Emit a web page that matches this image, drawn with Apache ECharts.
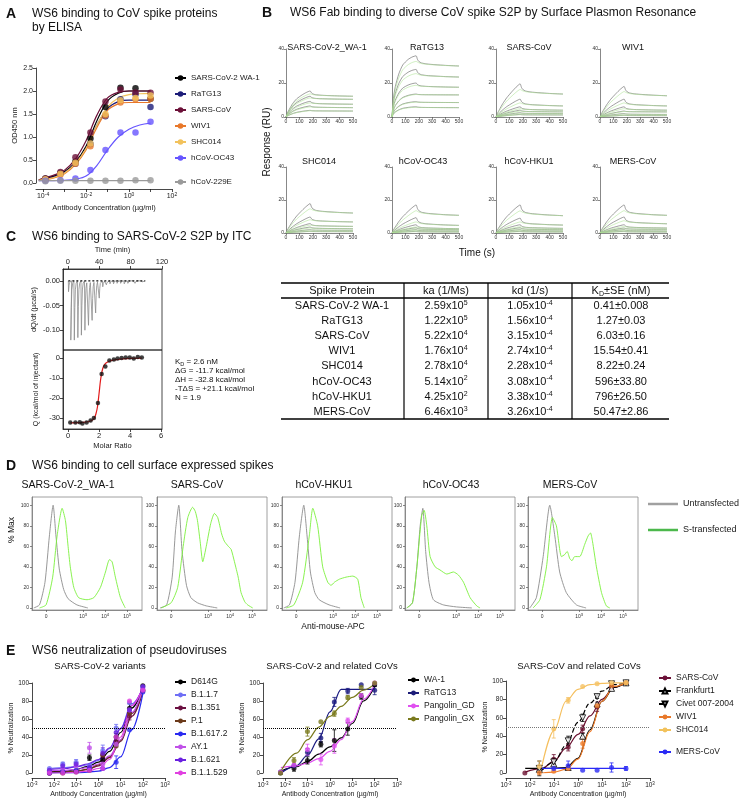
<!DOCTYPE html>
<html>
<head>
<meta charset="utf-8">
<title>WS6 figure</title>
<script src="https://cdn.jsdelivr.net/npm/echarts@6.0.0/dist/echarts.min.js"></script>
<style>
html,body{margin:0;padding:0;background:#ffffff;}
#chart{width:750px;height:801px;}
</style>
</head>
<body>
<div id="chart"></div>
<script>
// ============================ DATA ============================
// ---- Panel A: ELISA (OD450 vs antibody concentration, µg/ml)
const elisaNames = ['SARS-CoV-2 WA-1','RaTG13','SARS-CoV','WIV1','SHC014','hCoV-OC43','hCoV-229E'];
const elisaConc = [0.000128,0.00064,0.0032,0.016,0.08,0.4,2,10];
const elisaOD_WA1    = [0.10,0.22,0.47,0.97,1.65,2.07,2.06,1.83];
const elisaOD_RaTG13 = [0.08,0.20,0.42,0.85,1.45,1.82,1.93,1.65];
const elisaOD_SARS   = [0.10,0.24,0.56,1.10,1.77,2.03,1.97,1.96];
const elisaOD_WIV1   = [0.07,0.18,0.42,0.80,1.47,1.75,1.82,1.83];
const elisaOD_SHC014 = [0.08,0.20,0.44,0.86,1.50,1.80,1.85,1.90];
const elisaOD_OC43   = [0.05,0.06,0.10,0.28,0.72,1.10,1.10,1.33];
const elisaOD_229E   = [0.04,0.05,0.05,0.05,0.05,0.05,0.06,0.06];
const elisaFitLogConc = [-4.2,-3.5,-3,-2.5,-2,-1.5,-1,-0.5,0,0.5,1];
const elisaFit_WA1    = [0.07,0.15,0.25,0.45,0.80,1.35,1.78,1.95,2.00,2.00,2.00];
const elisaFit_RaTG13 = [0.06,0.13,0.23,0.42,0.75,1.25,1.62,1.77,1.80,1.80,1.80];
const elisaFit_SARS   = [0.07,0.17,0.28,0.52,0.92,1.47,1.85,1.97,2.00,2.00,2.00];
const elisaFit_WIV1   = [0.05,0.11,0.20,0.40,0.72,1.20,1.58,1.72,1.75,1.75,1.75];
const elisaFit_SHC014 = [0.06,0.12,0.22,0.42,0.75,1.25,1.65,1.85,1.92,1.94,1.95];
const elisaFit_OC43   = [0.05,0.05,0.06,0.08,0.15,0.38,0.72,1.00,1.17,1.26,1.30];
const elisaFit_229E   = [0.05,0.05,0.05,0.05,0.05,0.05,0.05,0.05,0.05,0.05,0.05];
const elisaXTickLabels = [-4,-2,0,2];
const elisaXTicks = [-4,-3,-2,-1,0,1,2];

// ---- Panel B: SPR sensorgrams (response RU at end of association / end of run)
const sprTitles = ['SARS-CoV-2_WA-1','RaTG13','SARS-CoV','WIV1','SHC014','hCoV-OC43','hCoV-HKU1','MERS-CoV'];
const sprPeak_WA1   = [15.3,12.2,9.2,6.5,3.9];
const sprEnd_WA1    = [12.2,10.4,7.5,5.5,3.5];
const sprPeak_RaTG13= [36,28,20,13.5,9,6];
const sprEnd_RaTG13 = [30,23.5,17.5,13,8.5,5.5];
const sprPeak_SARS  = [19.5,10.5,6,4,2.5,1.5];
const sprEnd_SARS   = [13.5,6.5,4,3,2,1.2];
const sprPeak_WIV1  = [18,10.5,6,3.5,2,1];
const sprEnd_WIV1   = [12.5,6.5,4,3,1.5,0.8];
const sprPeak_SHC014= [17.8,9.7,5.7,3.6,2,1];
const sprEnd_SHC014 = [12.1,6.7,4,2.6,1.6,0.8];
const sprPeak_OC43  = [17,9.3,5,3.2,2,1];
const sprEnd_OC43   = [10.7,4.6,2.6,2,1.2,0.6];
const sprPeak_HKU1  = [17,9,5,3.2,2,1];
const sprEnd_HKU1   = [10.5,4.8,2.8,2,1.2,0.6];
const sprPeak_MERS  = [17,9.7,5,3,2,1];
const sprEnd_MERS   = [10.7,5.6,3,2.2,1.2,0.6];
const sprAssocTime = [0,10,25,50,80,120,150,180];
const sprAssocFracFast = [0,0.30,0.50,0.70,0.85,0.94,0.98,1];
const sprAssocFracMid  = [0,0.15,0.30,0.52,0.70,0.85,0.94,1];
const sprAssocFracSlow = [0,0.10,0.22,0.40,0.58,0.77,0.90,1];
const sprDissocTime = [180,190,200,220,260,320,400,500];
const sprDissocFrac    = [0,0.35,0.55,0.70,0.80,0.87,0.94,1];
const sprFitDissocFrac = [0,0.15,0.30,0.47,0.63,0.77,0.90,1];

// ---- Table (SPR kinetics)
const tableHeader = ['Spike Protein','ka (1/Ms)','kd (1/s)'];
const tableProteins = ['SARS-CoV-2 WA-1','RaTG13','SARS-CoV','WIV1','SHC014','hCoV-OC43','hCoV-HKU1','MERS-CoV'];
const tableKaMant = ['2.59','1.22','5.22','1.76','2.78','5.14','4.25','6.46'];
const tableKaExp  = ['5','5','4','4','4','2','2','3'];
const tableKdMant = ['1.05','1.56','3.15','2.74','2.28','3.08','3.38','3.26'];
const tableKdExp  = ['-4','-4','-4','-4','-4','-4','-4','-4'];
const tableKD = ['0.41±0.008','1.27±0.03','6.03±0.16','15.54±0.41','8.22±0.24','596±33.80','796±26.50','50.47±2.86'];

// ---- Panel C: ITC
const itcInjTime = [0.5,3.4,7.9,12.4,16.9,21.4,26.0,30.6,35.1,39.7,44.2,48.8,53.4,57.9,62.5,67.0,71.6,76.2,80.7,85.3,89.8,94.4];
const itcInjPeak = [-0.022,-0.120,-0.120,-0.115,-0.110,-0.100,-0.090,-0.080,-0.065,-0.035,-0.012,-0.008,-0.006,-0.006,-0.005,-0.005,-0.006,-0.005,-0.004,-0.005,-0.004,-0.004];
const itcMolarRatio = [0.15,0.48,0.76,0.93,1.2,1.46,1.67,1.93,2.17,2.41,2.67,2.96,3.2,3.46,3.72,3.98,4.24,4.5,4.76];
const itcHeat = [-32.2,-32.3,-32.1,-32.8,-32.2,-31.3,-30,-22.5,-8,-4.2,-1.3,-0.8,-0.3,0,0.3,0.3,-0.3,0.5,0.3];
const itcFitRatio = [0.15,1.0,1.5,1.7,1.8,1.9,2.0,2.1,2.2,2.3,2.45,2.7,3.0,3.5,4.0,4.76];
const itcFitHeat  = [-32.4,-32.2,-31.4,-30,-28,-24.5,-18,-11,-6.5,-4,-2.5,-1.5,-0.9,-0.4,-0.2,-0.1];
const itcResults = ['K{sub|D} = 2.6 nM','ΔG = -11.7 kcal/mol','ΔH = -32.8 kcal/mol','-TΔS = +21.1 kcal/mol','N = 1.9'];

// ---- Panel D: flow cytometry histograms ([display decade position, % Max])
const flowTitles = ['SARS-CoV-2_WA-1','SARS-CoV','hCoV-HKU1','hCoV-OC43','MERS-CoV'];
const flowTickPos = [0,1.68,2.68,3.68];
const flowTickText = ['0','10{s|3}','10{s|4}','10{s|5}'];
const flowWA1_untr = [[-0.56,0],[-0.3,3],[-0.05,25],[0.15,70],[0.32,100],[0.45,70],[0.6,38],[0.8,18],[1.0,9],[1.4,3],[1.9,0]];
const flowWA1_str  = [[-0.3,0],[0,3],[0.3,30],[0.5,70],[0.73,97],[0.88,85],[1.0,60],[1.1,40],[1.26,20],[1.48,10],[1.86,8],[2.17,10],[2.47,20],[2.7,35],[2.88,47],[3.0,45],[3.15,30],[3.38,10],[3.6,0]];
const flowSARS_untr = [[-0.5,0],[-0.2,3],[0.05,30],[0.2,75],[0.35,100],[0.5,55],[0.7,22],[0.9,10],[1.2,5],[1.6,2],[2.1,0]];
const flowSARS_str  = [[-0.45,0],[0,5],[0.3,20],[0.55,60],[0.76,88],[0.98,98],[1.1,94],[1.2,85],[1.32,65],[1.44,45],[1.6,60],[1.8,82],[1.97,92],[2.12,88],[2.3,72],[2.42,65],[2.6,60],[2.73,57],[2.88,45],[3.05,30],[3.18,15],[3.35,6],[3.48,3],[3.71,0]];
const flowHKU1_untr = [[-0.56,0],[-0.3,3],[-0.05,25],[0.15,70],[0.35,100],[0.5,70],[0.65,35],[0.85,15],[1.05,8],[1.5,3],[2.0,0]];
const flowHKU1_str  = [[-0.45,0],[-0.1,3],[0.3,25],[0.6,70],[0.76,97],[0.98,80],[1.21,40],[1.44,25],[1.59,22],[1.74,25],[1.97,28],[2.27,30],[2.58,31],[2.8,28],[2.95,10],[3.1,0]];
const flowOC43_untr = [[-0.56,0],[-0.3,5],[-0.1,40],[0.05,80],[0.17,97],[0.3,55],[0.45,25],[0.65,8],[1.1,3],[1.7,1],[2.4,0]];
const flowOC43_str  = [[-0.56,0],[-0.3,5],[-0.1,40],[0.12,90],[0.23,95],[0.35,80],[0.5,50],[0.73,40],[0.95,37],[1.26,33],[1.56,35],[1.79,32],[2.02,25],[2.32,10],[2.62,2],[2.77,0]];
const flowMERS_untr = [[-0.56,0],[-0.26,10],[0.05,50],[0.35,100],[0.58,70],[0.8,35],[1.1,15],[1.56,3],[2.0,0]];
const flowMERS_str  = [[-0.41,0],[-0.1,8],[0.2,40],[0.47,88],[0.65,80],[0.88,50],[1.03,52],[1.14,55],[1.26,48],[1.36,46],[1.48,50],[1.71,50],[1.94,62],[2.09,70],[2.2,73],[2.29,65],[2.47,40],[2.7,15],[2.92,2],[3.08,0]];

// ---- Panel E: neutralization (% neutralization vs µg/ml), error = SEM
const neutConc = [0.0061,0.0244,0.0977,0.39,1.5625,6.25,25,100];
const neutFitLogConc = [-2.2,-1.5,-1,-0.5,0,0.5,1,1.5,2];
const neutXTicks = [-3,-2,-1,0,1,2,3];
const neutSubtitles = ['SARS-CoV-2 variants','SARS-CoV-2 and related CoVs','SARS-CoV and related CoVs'];
// variants
const neut1_D614G   = [0,1,2,17,15,40,72,97];
const neut1_B117    = [5,10,12,8,25,50,78,95];
const neut1_B1351   = [0,1,1,3,20,35,63,91];
const neut1_P1      = [0,0,2,5,20,30,66,92];
const neut1_B16172  = [0,2,3,5,5,12,48,90];
const neut1_AY1     = [2,5,8,28,10,32,70,93];
const neut1_B1621   = [3,8,10,6,22,45,70,96];
const neut1_B11529  = [0,0,1,3,5,40,80,92];
const err1_D614G  = [0,0,0,3,2,4,5,0];
const err1_B117   = [0,2,3,0,6,4,0,0];
const err1_B1351  = [0,0,0,0,3,0,4,0];
const err1_P1     = [0,0,0,0,0,0,0,0];
const err1_B16172 = [0,0,0,0,0,7,0,0];
const err1_AY1    = [0,0,0,6,0,0,0,0];
const err1_B1621  = [0,0,0,0,6,0,0,0];
const err1_B11529 = [0,0,0,0,0,0,0,0];
const fit1_D614G  = [1,2,4,7,12,24,45,72,95];
const fit1_B117   = [5,6,7,9,14,27,50,77,94];
const fit1_B1351  = [0,1,2,4,8,17,35,63,90];
const fit1_P1     = [1,1,2,4,9,18,36,66,91];
const fit1_B16172 = [0,0,0,1,2,6,18,48,88];
const fit1_AY1    = [3,3,4,6,10,19,37,67,93];
const fit1_B1621  = [4,5,7,10,15,28,49,75,95];
const fit1_B11529 = [0,0,1,2,5,15,40,75,95];
// SARS-CoV-2 and related
const neut2_WA1    = [0,5,14,32,36,49,85,98];
const neut2_RaTG13 = [1,8,23,39,79,91,98,92];
const neut2_PangGD = [1,9,26,15,30,58,86,100];
const neut2_PangGX = [0,14,46,57,66,84,95,100];
const err2_WA1    = [0,3,4,3,12,7,3,2];
const err2_RaTG13 = [0,0,4,5,5,3,0,5];
const err2_PangGD = [0,0,6,6,8,3,0,0];
const err2_PangGX = [0,3,5,0,3,2,0,0];
const fit2_WA1    = [2,7,13,21,29,39,55,80,96];
const fit2_RaTG13 = [0,8,20,38,68,93,93,93,93];
const fit2_PangGD = [6,8,11,16,24,37,57,82,98];
const fit2_PangGX = [2,22,37,51,63,74,84,92,99];
// SARS-CoV and related
const neut3_SARS   = [0,3,15,28,48,72,93,98];
const neut3_Frank  = [null,4,10,6,40,75,92,98];
const neut3_Civet  = [null,5,12,35,60,83,97,98];
const neut3_WIV1   = [null,0,2,5,32,73,95,98];
const neut3_SHC014 = [null,7,48,79,94,97,98,98];
const neut3_MERS   = [null,null,5,8,3,3,6,5];
const err3_SARS   = [0,0,5,4,4,5,2,0];
const err3_Frank  = [0,0,0,0,3,0,0,0];
const err3_Civet  = [0,8,4,5,4,2,0,0];
const err3_WIV1   = [0,0,0,0,5,0,0,0];
const err3_SHC014 = [0,6,10,3,0,0,0,0];
const err3_MERS   = [0,0,0,5,0,0,5,2];
const fit3_SARS   = [1,5,13,27,42,62,80,93,98];
const fit3_Frank  = [5,5,5,6,16,47,78,93,98];
const fit3_Civet  = [null,3,12,30,55,76,89,96,98];
const fit3_WIV1   = [null,0,1,4,15,45,78,94,98];
const fit3_SHC014 = [null,8,46,78,91,96,97.5,98,98];
const fit3_MERS   = [null,5,5,5,5,5,5,5,5];

// ============================ STYLE / LAYOUT ============================
const FF = '"Liberation Sans", Arial, Helvetica, sans-serif';
const INK = '#1a1a1a';

function isObj(o){return o && typeof o === 'object' && !Array.isArray(o) && typeof o !== 'function';}
function merge(a,b){ const r = Object.assign({},a); for (const k in b){ if (isObj(b[k]) && isObj(a[k])) r[k]=merge(a[k],b[k]); else r[k]=b[k]; } return r; }
function baseAxis(o){
  return merge({
    type:'value',
    axisLine:{show:true,onZero:false,lineStyle:{color:INK,width:0.8}},
    axisTick:{show:true,length:3,lineStyle:{color:INK,width:0.8}},
    axisLabel:{fontSize:7,color:INK,margin:3,fontFamily:FF},
    splitLine:{show:false},
    nameTextStyle:{fontSize:7.5,color:INK,fontFamily:FF}
  }, o);
}
const supRich = fs => ({ s:{fontSize:fs,lineHeight:fs,verticalAlign:'top',fontFamily:FF,color:INK} });
const pow10 = v => '10{s|' + Math.round(v) + '}';

const grids=[], xAxes=[], yAxes=[], series=[], legends=[], gfx=[];
function addGrid(l,t,w,h,extra){ grids.push(Object.assign({left:l,top:t,width:w,height:h,containLabel:false},extra||{})); return grids.length-1; }
const zip = (xs,ys) => xs.map((x,i)=>[x,ys[i]]).filter(p=>p[1]!==null && p[1]!==undefined);
const logs = arr => arr.map(v=>Math.log10(v));

function T(x,y,text,fs,o){
  o=o||{};
  return {type:'text', x:x, y:y, rotation:o.rot||0, silent:true, z:100,
    style:{text:text, fontSize:fs, fontFamily:FF, fontWeight:o.bold?'bold':'normal', fill:o.color||'#111',
      align:o.align||'left', verticalAlign:'middle', rich:o.rich||undefined, lineHeight:o.lh||undefined}};
}
function L(x1,y1,x2,y2,w){ return {type:'line', silent:true, z:100, shape:{x1:x1,y1:y1,x2:x2,y2:y2}, style:{stroke:'#000',lineWidth:w}}; }

function errorBarSeries(g,color,xs,ys,es){
  const data = xs.map((x,i)=>[x,ys[i],es[i]]).filter(d=>d[1]!==null && d[2]>0).map(d=>[d[0],d[1]-d[2],d[1]+d[2]]);
  return {type:'custom',xAxisIndex:g,yAxisIndex:g,data:data,silent:true,z:3,encode:{x:0,y:[1,2]},
    renderItem:function(params,api){
      const p1 = api.coord([api.value(0),api.value(1)]), p2 = api.coord([api.value(0),api.value(2)]);
      const st = {stroke:color,lineWidth:0.8}, w=2;
      return {type:'group',children:[
        {type:'line',shape:{x1:p1[0],y1:p1[1],x2:p2[0],y2:p2[1]},style:st},
        {type:'line',shape:{x1:p1[0]-w,y1:p1[1],x2:p1[0]+w,y2:p1[1]},style:st},
        {type:'line',shape:{x1:p2[0]-w,y1:p2[1],x2:p2[0]+w,y2:p2[1]},style:st}]};
    }};
}

// ---------------- Panel A ----------------
const gA = addGrid(36,68,136,115);
xAxes.push(baseAxis({gridIndex:gA,min:-4.33,max:2,offset:6,
  axisLabel:{customValues:elisaXTickLabels,formatter:pow10,rich:supRich(5),lineHeight:9},
  axisTick:{customValues:elisaXTicks},
  name:'Antibody Concentration (µg/ml)',nameLocation:'middle',nameGap:15}));
yAxes.push(baseAxis({gridIndex:gA,min:0,max:2.5,interval:0.5,axisLabel:{formatter:v=>v.toFixed(1)},
  name:'OD450 nm',nameLocation:'middle',nameGap:17}));
const elisaColors = ['#000000','#1c1c78','#6b1038','#e8782a','#f2c25c','#6655ff','#9a9a9a'];
const elisaOD = [elisaOD_WA1,elisaOD_RaTG13,elisaOD_SARS,elisaOD_WIV1,elisaOD_SHC014,elisaOD_OC43,elisaOD_229E];
const elisaFit = [elisaFit_WA1,elisaFit_RaTG13,elisaFit_SARS,elisaFit_WIV1,elisaFit_SHC014,elisaFit_OC43,elisaFit_229E];
elisaNames.forEach((n,i)=>{
  series.push({type:'line',name:n,xAxisIndex:gA,yAxisIndex:gA,data:zip(elisaFitLogConc,elisaFit[i]),
    smooth:0.35,showSymbol:false,symbol:'circle',itemStyle:{color:elisaColors[i]},
    lineStyle:{color:elisaColors[i],width:1.2},z:3,silent:true});
  series.push({type:'scatter',name:n,xAxisIndex:gA,yAxisIndex:gA,data:zip(logs(elisaConc),elisaOD[i]),
    symbol:'circle',symbolSize:6.5,itemStyle:{color:elisaColors[i]},z:4,silent:true});
});
legends.push({left:174,top:73,orient:'vertical',padding:0,itemWidth:11,itemHeight:7,itemGap:6,selectedMode:false,
  textStyle:{fontSize:8,lineHeight:10,color:INK,fontFamily:FF},data:elisaNames.slice(0,6)});
legends.push({left:174,top:177,orient:'vertical',padding:0,itemWidth:11,itemHeight:7,itemGap:6,selectedMode:false,
  textStyle:{fontSize:8,lineHeight:10,color:INK,fontFamily:FF},data:[elisaNames[6]]});

// ---------------- Panel B: SPR ----------------
const sprLefts = [286,392,496,600];
const sprPeaks = [sprPeak_WA1,sprPeak_RaTG13,sprPeak_SARS,sprPeak_WIV1,sprPeak_SHC014,sprPeak_OC43,sprPeak_HKU1,sprPeak_MERS];
const sprEnds  = [sprEnd_WA1,sprEnd_RaTG13,sprEnd_SARS,sprEnd_WIV1,sprEnd_SHC014,sprEnd_OC43,sprEnd_HKU1,sprEnd_MERS];
const sprShapes = [sprAssocFracMid,sprAssocFracFast,sprAssocFracSlow,sprAssocFracSlow,sprAssocFracSlow,sprAssocFracSlow,sprAssocFracSlow,sprAssocFracSlow];
sprTitles.forEach((title,p)=>{
  const row = p<4?0:1;
  const g = addGrid(sprLefts[p%4], row?167:49, 67, row?66:68);
  const sprAx = {axisLine:{lineStyle:{color:'#555',width:0.7}},axisTick:{length:2,lineStyle:{color:'#555',width:0.7}},axisLabel:{fontSize:5,margin:2,color:'#333'}};
  xAxes.push(baseAxis(merge(sprAx,{gridIndex:g,min:0,max:500,interval:100})));
  yAxes.push(baseAxis(merge(sprAx,{gridIndex:g,min:0,max:40,interval:20})));
  const shape = sprShapes[p];
  sprPeaks[p].forEach((P,k)=>{
    const E = sprEnds[p][k];
    const raw = sprAssocTime.map((t,i)=>[t,P*shape[i]]).concat(sprDissocTime.slice(1).map((t,i)=>[t,P-(P-E)*sprDissocFrac[i+1]]));
    const Pg = E+(P-E)*0.45;
    const fit = sprAssocTime.map((t,i)=>[t,Pg*shape[i]]).concat(sprDissocTime.slice(1).map((t,i)=>[t,Pg-(Pg-E)*sprFitDissocFrac[i+1]]));
    series.push({type:'line',xAxisIndex:g,yAxisIndex:g,data:raw,smooth:0.2,showSymbol:false,symbol:'none',
      lineStyle:{color:'#767676',width:0.7},silent:true,z:2});
    series.push({type:'line',xAxisIndex:g,yAxisIndex:g,data:fit,smooth:0.2,showSymbol:false,symbol:'none',
      lineStyle:{color:'#b2e59a',width:0.6},silent:true,z:3});
  });
});
const sprTitleX = [327,427,529,633,319,423,529,633];
sprTitles.forEach((t,p)=>gfx.push(T(sprTitleX[p], p<4?48:162, t, 9, {align:'center'})));
gfx.push(T(267,142,'Response (RU)',10,{align:'center',rot:Math.PI/2}));
gfx.push(T(477,253,'Time (s)',10,{align:'center'}));

// ---------------- Table ----------------
const tabX = [281,404,488,572,669];
const tabTop = 283, tabHead = 298, tabBottom = 419, rowH = 15.1, row0 = 306;
gfx.push(L(tabX[0],tabTop,tabX[4],tabTop,1.6));
gfx.push(L(tabX[0],tabHead,tabX[4],tabHead,1.3));
gfx.push(L(tabX[0],tabBottom,tabX[4],tabBottom,1.6));
for (let c=1;c<4;c++) gfx.push(L(tabX[c],tabTop,tabX[c],tabBottom,1.2));
const colC = [342,446,530,621];
const tabRich = {s:{fontSize:7,lineHeight:7,verticalAlign:'top',fontFamily:FF,fill:'#111'},sub:{fontSize:7,lineHeight:14,verticalAlign:'bottom',fontFamily:FF,fill:'#111'}};
tableHeader.forEach((h,c)=>gfx.push(T(colC[c],291,h,11,{align:'center'})));
gfx.push(T(colC[3],291,'K{sub|D}±SE (nM)',11,{align:'center',rich:tabRich,lh:13}));
tableProteins.forEach((p,r)=>{
  const y = row0 + r*rowH;
  gfx.push(T(colC[0],y,p,11,{align:'center'}));
  gfx.push(T(colC[1],y,tableKaMant[r]+'x10{s|'+tableKaExp[r]+'}',11,{align:'center',rich:tabRich,lh:13}));
  gfx.push(T(colC[2],y,tableKdMant[r]+'x10{s|'+tableKdExp[r]+'}',11,{align:'center',rich:tabRich,lh:13}));
  gfx.push(T(colC[3],y,tableKD[r],11,{align:'center'}));
});

// ---------------- Panel C: ITC ----------------
const frame = {show:true,borderColor:INK,borderWidth:0.8};
const gC1 = addGrid(63,269,99,81,frame);
const gC2 = addGrid(63,350,99,79,frame);
const itcAx = {axisLabel:{fontSize:7.5},nameTextStyle:{fontSize:7.5}};
xAxes.push(baseAxis(merge(itcAx,{gridIndex:gC1,position:'top',min:-6.3,max:120,
  axisLabel:{customValues:[0,40,80,120]},axisTick:{customValues:[0,40,80,120]},
  name:'Time (min)',nameLocation:'middle',nameGap:15})));
yAxes.push(baseAxis(merge(itcAx,{gridIndex:gC1,min:-0.14,max:0.024,
  axisLabel:{customValues:[0,-0.05,-0.1],formatter:v=>v.toFixed(2)},axisTick:{customValues:[0,-0.05,-0.1]},
  name:'dQ/dt (µcal/s)',nameLocation:'middle',nameGap:25})));
xAxes.push(baseAxis(merge(itcAx,{gridIndex:gC2,min:-0.32,max:6.06,
  axisLabel:{customValues:[0,2,4,6]},axisTick:{customValues:[0,2,4,6]},
  name:'Molar Ratio',nameLocation:'middle',nameGap:13})));
yAxes.push(baseAxis(merge(itcAx,{gridIndex:gC2,min:-35.5,max:4,
  axisLabel:{customValues:[0,-10,-20,-30]},axisTick:{customValues:[0,-10,-20,-30]},
  name:'Q (kcal/mol of injectant)',nameLocation:'middle',nameGap:23,nameTextStyle:{fontSize:7}})));
const itcTrace = [];
itcInjTime.forEach((t,i)=>{
  const d = itcInjPeak[i];
  itcTrace.push([t,0],[t+0.25,d],[t+0.9,d*0.45],[t+1.6,d*0.15],[t+2.6,d*0.04],[t+4.2,0]);
});
series.push({type:'line',xAxisIndex:gC1,yAxisIndex:gC1,data:itcTrace,showSymbol:false,symbol:'none',
  lineStyle:{color:'#8c8c8c',width:0.8},silent:true});
series.push({type:'line',xAxisIndex:gC1,yAxisIndex:gC1,
  data:[[itcInjTime[0],0],[itcInjTime[itcInjTime.length-1]+4.2,0]],showSymbol:false,symbol:'none',
  lineStyle:{color:'#111',width:1.2,type:[2,2]},silent:true,z:3});
series.push({type:'line',xAxisIndex:gC2,yAxisIndex:gC2,data:zip(itcFitRatio,itcFitHeat),smooth:0.3,showSymbol:false,symbol:'none',
  lineStyle:{color:'#e21a1a',width:1.2},silent:true,z:2});
series.push({type:'scatter',xAxisIndex:gC2,yAxisIndex:gC2,data:zip(itcMolarRatio,itcHeat),symbol:'circle',symbolSize:4.5,
  itemStyle:{color:'#111'},silent:true,z:3});
itcResults.forEach((s,i)=>gfx.push(T(175,362+i*9,s,8,{rich:{sub:{fontSize:5.5,lineHeight:11,verticalAlign:'bottom',fontFamily:FF,fill:'#111'}},lh:11})));

// ---------------- Panel D: flow ----------------
const dLefts = [32,157,282,405,528];
const flowUntr = [flowWA1_untr,flowSARS_untr,flowHKU1_untr,flowOC43_untr,flowMERS_untr];
const flowStr  = [flowWA1_str,flowSARS_str,flowHKU1_str,flowOC43_str,flowMERS_str];
const dAx = {axisLine:{lineStyle:{color:'#777',width:0.8}},axisTick:{length:2,lineStyle:{color:'#555',width:0.7}},axisLabel:{fontSize:5,margin:3,color:'#333'}};
flowTitles.forEach((t,p)=>{
  const g = addGrid(dLefts[p],497,110,113,{show:true,borderColor:'#888',borderWidth:0.8});
  xAxes.push(baseAxis(merge(dAx,{gridIndex:g,min:-0.64,max:4.36,
    axisLabel:{customValues:flowTickPos,formatter:v=>flowTickText[flowTickPos.findIndex(q=>Math.abs(q-v)<0.01)],rich:supRich(4),lineHeight:7},
    axisTick:{customValues:flowTickPos}})));
  yAxes.push(baseAxis(merge(dAx,{gridIndex:g,min:-2,max:108,
    axisLabel:{customValues:[0,20,40,60,80,100]},axisTick:{customValues:[0,20,40,60,80,100]}})));
  series.push({type:'line',name:'Untransfected',xAxisIndex:g,yAxisIndex:g,data:flowUntr[p],smooth:0.2,showSymbol:false,symbol:'none',
    itemStyle:{color:'#9a9a9a'},lineStyle:{color:'#8c8c8c',width:0.9},silent:true,z:2});
  series.push({type:'line',name:'S-transfected',xAxisIndex:g,yAxisIndex:g,data:flowStr[p],smooth:0.2,showSymbol:false,symbol:'none',
    itemStyle:{color:'#4cb84c'},lineStyle:{color:'#7cf03c',width:0.9},silent:true,z:3});
});
const dTitleX = [68,197,324,451,570];
flowTitles.forEach((t,p)=>gfx.push(T(dTitleX[p],485,t,10.5,{align:'center'})));
gfx.push(T(12,530,'% Max',8.5,{align:'center',rot:Math.PI/2}));
gfx.push(T(333,627,'Anti-mouse-APC',8.5,{align:'center'}));
legends.push({left:648,top:499,orient:'vertical',padding:0,itemWidth:30,itemHeight:2.5,itemGap:16,selectedMode:false,
  textStyle:{fontSize:9,lineHeight:10,color:INK,fontFamily:FF},
  data:[{name:'Untransfected',icon:'rect',itemStyle:{color:'#a0a0a0'}},{name:'S-transfected',icon:'rect',itemStyle:{color:'#4cb84c'}}]});

// ---------------- Panel E: neutralization ----------------
const eGrids = [addGrid(32,683,133,90), addGrid(263,683,134,90), addGrid(506,681,144,92)];
eGrids.forEach((g,k)=>{
  xAxes.push(baseAxis({gridIndex:g,min:-3,max:3,offset:5,
    axisLabel:{customValues:neutXTicks,formatter:pow10,rich:supRich(4.5),lineHeight:8,fontSize:6.5},
    axisTick:{customValues:neutXTicks},
    name:'Antibody Concentration (µg/ml)',nameLocation:'middle',nameGap:13,nameTextStyle:{fontSize:7}}));
  yAxes.push(baseAxis({gridIndex:g,min:0,max:100,interval:20,axisLabel:{fontSize:6.5},
    name:'% Neutralization',nameLocation:'middle',nameGap:17,nameTextStyle:{fontSize:7}}));
});
const neutSets = [
  [['D614G',neut1_D614G,fit1_D614G,err1_D614G,'#000000'],['B.1.1.7',neut1_B117,fit1_B117,err1_B117,'#6f6ff5'],['B.1.351',neut1_B1351,fit1_B1351,err1_B1351,'#6b1040'],
   ['P.1',neut1_P1,fit1_P1,err1_P1,'#6b3a1a'],['B.1.617.2',neut1_B16172,fit1_B16172,err1_B16172,'#2a2af0'],['AY.1',neut1_AY1,fit1_AY1,err1_AY1,'#c050e8'],
   ['B.1.621',neut1_B1621,fit1_B1621,err1_B1621,'#6a20e0'],['B.1.1.529',neut1_B11529,fit1_B11529,err1_B11529,'#e040e0']],
  [['WA-1',neut2_WA1,fit2_WA1,err2_WA1,'#000000'],['RaTG13',neut2_RaTG13,fit2_RaTG13,err2_RaTG13,'#1a1a80'],
   ['Pangolin_GD',neut2_PangGD,fit2_PangGD,err2_PangGD,'#e050f0'],['Pangolin_GX',neut2_PangGX,fit2_PangGX,err2_PangGX,'#7a7a1e']],
  [['SARS-CoV',neut3_SARS,fit3_SARS,err3_SARS,'#6b1030'],['Frankfurt1',neut3_Frank,fit3_Frank,err3_Frank,'#000000'],['Civet 007-2004',neut3_Civet,fit3_Civet,err3_Civet,'#000000'],
   ['WIV1',neut3_WIV1,fit3_WIV1,err3_WIV1,'#f07d2a'],['SHC014',neut3_SHC014,fit3_SHC014,err3_SHC014,'#f5c060'],['MERS-CoV',neut3_MERS,fit3_MERS,err3_MERS,'#2a2af5']]
];
const neutMarker = {'Frankfurt1':{symbol:'triangle',rot:0,open:true},'Civet 007-2004':{symbol:'triangle',rot:180,open:true,dashed:true}};
neutSets.forEach((set,k)=>{
  const g = eGrids[k];
  set.forEach((s,i)=>{
    const [name,pts,fit,err,color] = s;
    const mk = neutMarker[name] || {symbol:'circle',rot:0};
    const itemStyle = mk.open ? {color:'#ffffff',borderColor:color,borderWidth:1} : {color:color};
    const line = {type:'line',name:name,xAxisIndex:g,yAxisIndex:g,data:zip(neutFitLogConc,fit),smooth:0.35,smoothMonotone:'x',
      showSymbol:false,symbol:mk.symbol,symbolRotate:mk.rot,itemStyle:itemStyle,
      lineStyle:{color:color,width:1.2,type:mk.dashed?'dashed':'solid'},silent:true,z:2};
    if (i===0) line.markLine = {silent:true,symbol:'none',label:{show:false},
      lineStyle:{color:k===2?'#777':'#000',type:'dotted',width:1},data:[{yAxis:50}]};
    series.push(line);
    series.push(errorBarSeries(g,color,logs(neutConc),pts,err));
    series.push({type:'scatter',name:name,xAxisIndex:g,yAxisIndex:g,data:zip(logs(neutConc),pts),
      symbol:mk.symbol,symbolRotate:mk.rot,symbolSize:mk.open?6:5,itemStyle:itemStyle,silent:true,z:4});
  });
});
const eLeg = (left,top,names,w) => ({left:left,top:top,orient:'vertical',padding:0,itemWidth:w,itemHeight:6,itemGap:3,selectedMode:false,
  textStyle:{fontSize:8.5,lineHeight:10,color:INK,fontFamily:FF},data:names});
legends.push(eLeg(174,677,neutSets[0].map(s=>s[0]),11));
legends.push(eLeg(407,675,neutSets[1].map(s=>s[0]),11));
legends.push(eLeg(658,673,neutSets[2].slice(0,5).map(s=>s[0]),12));
legends.push(eLeg(658,747,[neutSets[2][5][0]],12));
const eSubX = [100,332,579];
neutSubtitles.forEach((t,k)=>gfx.push(T(eSubX[k],666,t,9.5,{align:'center'})));

// ---------------- Panel letters & titles ----------------
gfx.push(T(6,14,'A',14,{bold:true}));
gfx.push(T(32,14,'WS6 binding to CoV spike proteins',12));
gfx.push(T(32,28,'by ELISA',12));
gfx.push(T(262,13,'B',14,{bold:true}));
gfx.push(T(290,13,'WS6 Fab binding to diverse CoV spike S2P by Surface Plasmon Resonance',12));
gfx.push(T(6,237,'C',14,{bold:true}));
gfx.push(T(32,237,'WS6 binding to SARS-CoV-2 S2P by ITC',12));
gfx.push(T(6,466,'D',14,{bold:true}));
gfx.push(T(32,466,'WS6 binding to cell surface expressed spikes',12));
gfx.push(T(6,651,'E',14,{bold:true}));
gfx.push(T(32,651,'WS6 neutralization of pseudoviruses',12));

// ============================ RENDER ============================
const chart = echarts.init(document.getElementById('chart'), null, {renderer:'canvas'});
chart.setOption({
  animation:false,
  backgroundColor:'#ffffff',
  textStyle:{fontFamily:FF},
  grid:grids, xAxis:xAxes, yAxis:yAxes, legend:legends, series:series,
  graphic:{elements:gfx}
});
</script>
